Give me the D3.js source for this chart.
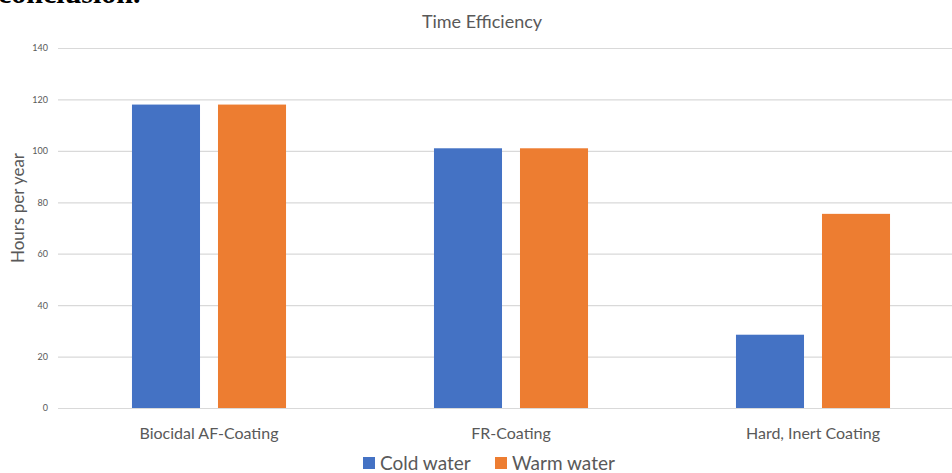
<!DOCTYPE html>
<html>
<head>
<meta charset="utf-8">
<script src="https://cdn.jsdelivr.net/npm/d3@7"></script>
<style>
  html, body { margin: 0; padding: 0; background: #fff; overflow: hidden; }
  svg { display: block; }
</style>
</head>
<body>
<svg id="chart" width="952" height="473"></svg>
<script>
const categories = ["Biocidal AF-Coating", "FR-Coating", "Hard, Inert Coating"];
const seriesNames = ["Cold water", "Warm water"];
const coldWater = [118, 101, 28.5];
const warmWater = [118, 101, 75.5];
const yTicks = [0, 20, 40, 60, 80, 100, 120, 140];
const colors = ["#4472C4", "#ED7D31"];

const svg = d3.select("#chart");
const font = "Lato, 'Open Sans', sans-serif";
const textColor = "#595959";

// Heading text from the surrounding document, clipped at the top edge
svg.append("text")
  .attr("x", -2).attr("y", 3)
  .attr("font-family", "'Liberation Serif', serif")
  .attr("font-weight", "bold")
  .attr("font-size", 30)
  .attr("fill", "#000")
  .text("conclusion.");

const plot = { left: 58, right: 964, top: 48, bottom: 408 };

const x = d3.scaleBand().domain(categories).range([plot.left, plot.right]).paddingInner(0).paddingOuter(0);
const xInner = d3.scaleBand().domain(seriesNames).range([0, x.bandwidth()]).paddingInner(0.209).paddingOuter(0.86);
const y = d3.scaleLinear().domain([0, 140]).range([plot.bottom, plot.top]);

// Gridlines and y tick labels
const yAxis = d3.axisLeft(y).tickValues(yTicks).tickSize(-(plot.right - plot.left)).tickPadding(10);
const gy = svg.append("g").attr("transform", `translate(${plot.left},0)`).call(yAxis);
gy.select(".domain").remove();
gy.selectAll(".tick line").attr("stroke", "#D9D9D9").attr("stroke-width", 1.2);
gy.selectAll(".tick text").attr("font-family", font).attr("font-size", 9).attr("fill", textColor);

// Bars
const groups = svg.append("g").selectAll("g").data(categories).join("g")
  .attr("transform", d => `translate(${x(d)},0)`);
groups.selectAll("rect")
  .data((d, i) => [ { s: seriesNames[0], v: coldWater[i] }, { s: seriesNames[1], v: warmWater[i] } ])
  .join("rect")
  .attr("x", d => xInner(d.s))
  .attr("width", xInner.bandwidth())
  .attr("y", d => y(d.v))
  .attr("height", d => y(0) - y(d.v))
  .attr("fill", (d, i) => colors[i]);

// Category labels
const xAxis = d3.axisBottom(x).tickSize(0).tickPadding(20);
const gx = svg.append("g").attr("transform", `translate(0,${plot.bottom})`).call(xAxis);
gx.select(".domain").remove();
gx.selectAll(".tick text").attr("font-family", font).attr("font-size", 16).attr("fill", textColor);

// Title
svg.append("text")
  .attr("x", 482).attr("y", 28)
  .attr("text-anchor", "middle")
  .attr("font-family", font).attr("font-size", 18).attr("fill", textColor)
  .text("Time Efficiency");

// Y axis title
svg.append("text")
  .attr("transform", "translate(24,208) rotate(-90)")
  .attr("text-anchor", "middle")
  .attr("font-family", font).attr("font-size", 17).attr("fill", textColor)
  .text("Hours per year");

// Legend
const legendItems = [ { name: seriesNames[0], x: 363 }, { name: seriesNames[1], x: 495 } ];
const lg = svg.append("g").selectAll("g").data(legendItems).join("g")
  .attr("transform", d => `translate(${d.x},457)`);
lg.append("rect").attr("width", 12).attr("height", 12).attr("fill", (d, i) => colors[i]);
lg.append("text").attr("x", 17).attr("y", 12.5)
  .attr("font-family", font).attr("font-size", 19).attr("fill", textColor)
  .text(d => d.name);
</script>
</body>
</html>
